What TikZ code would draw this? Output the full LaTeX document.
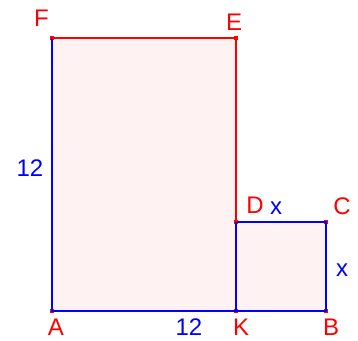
\documentclass[tikz,border=0pt]{standalone}
\usepackage{fontspec}
\setmainfont{Liberation Sans}
\begin{document}
\begin{tikzpicture}[x=1pt,y=1pt,
    pnt/.style={fill=red,inner sep=0pt,minimum size=4.5pt},
    lbl/.style={anchor=base,inner sep=0pt,font=\fontsize{24}{28}\selectfont}]
    \useasboundingbox(0,0)rectangle(358,340);
    %頂点
    \coordinate(A)at(52,29);
    \coordinate(K)at(236,29);
    \coordinate(B)at(326,29);
    \coordinate(C)at(326,118);
    \coordinate(D)at(236,118);
    \coordinate(E)at(236,302);
    \coordinate(F)at(52,302);
    %面
    \fill[red!5](A)--(K)--(E)--(F)--cycle;
    \fill[red!5](K)--(B)--(C)--(D)--cycle;
    %点
    \foreach \p in {A,K,B,C,D,E,F}
        \node[pnt](p\p)at(\p){};
    %辺
    \draw[blue,line width=1.6pt](F)--(A)--(K)--(B)--(C)--(D)--(K);
    \draw[red,line width=1.6pt](D)--(E)--(F);
    %名前
    \node[lbl,red](lA)at(56,5){A};
    \node[lbl,red](lK)at(241,5){K};
    \node[lbl,red](lB)at(331,5){B};
    \node[lbl,red](lC)at(342,125){C};
    \node[lbl,red](lD)at(255,127){D};
    \node[lbl,red](lE)at(234,309){E};
    \node[lbl,red](lF)at(41.5,313){F};
    %長さ
    \node[lbl,blue](lAF)at(30,163){12};
    \node[lbl,blue](lAK)at(189,5){12};
    \node[lbl,blue](lDC)at(276,125){x};
    \node[lbl,blue](lBC)at(342,64){x};
\end{tikzpicture}
\end{document}
